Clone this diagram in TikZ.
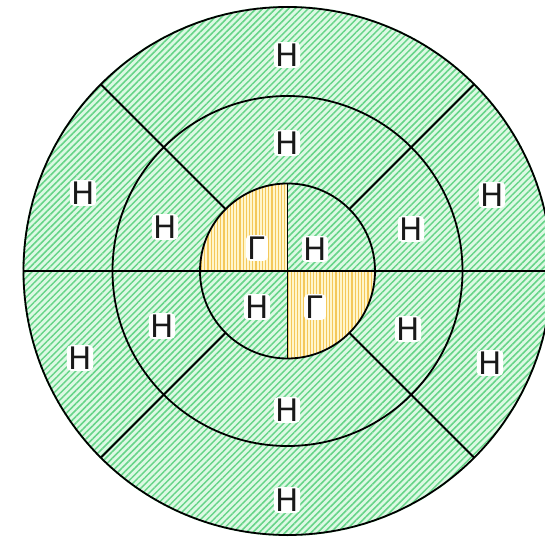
\documentclass[tikz,border=0pt]{standalone}
\usepackage{fontspec}
\setmainfont{DejaVu Sans}
\usetikzlibrary{patterns.meta,calc}
\definecolor{gbg}{HTML}{DDF9E4}
\definecolor{gline}{HTML}{66D488}
\definecolor{ybg}{HTML}{FFF6CC}
\definecolor{yline}{HTML}{F4C85A}
\tikzset{
  lab/.style={font=\fontsize{31}{31}\selectfont, fill=white, inner sep=1.5pt, rounded corners=4pt, text=black!90},
  ring/.style={draw=black, line width=1.8pt},
  greenhatch/.style={pattern={Lines[angle=45,distance=4.6pt,line width=1.5pt]}, pattern color=gline},
  yellowhatch/.style={pattern={Lines[angle=90,distance=3.2pt,line width=1.1pt]}, pattern color=yline},
}
\begin{document}
\begin{tikzpicture}[x=1pt,y=1pt]
\useasboundingbox (0,0) rectangle (545,538);
\fill[white] (0,0) rectangle (545,538);
\clip (0,0) rectangle (545,538);
\coordinate (C) at (287.5,267);
% background fill
\fill[gbg] (C) circle[radius=265];
\fill[greenhatch] (C) circle[radius=265];
% yellow quadrants
\fill[ybg] (C) -- ++(0,87.5) arc[start angle=90,end angle=180,radius=87.5] -- cycle;
\fill[yellowhatch] (C) -- ++(0,87.5) arc[start angle=90,end angle=180,radius=87.5] -- cycle;
\fill[ybg] (C) -- ++(0,-87.5) arc[start angle=270,end angle=360,radius=87.5] -- cycle;
\fill[yellowhatch] (C) -- ++(0,-87.5) arc[start angle=270,end angle=360,radius=87.5] -- cycle;
% circles
\draw[ring] (C) circle[radius=264];
\draw[ring] (C) circle[radius=175];
\draw[ring] (C) circle[radius=87.5];
% lines
\draw[ring] ($(C)+(-264,0)$) -- ($(C)+(264,0)$);
\draw[ring] ($(C)+(0,87.5)$) -- ($(C)+(0,-87.5)$);
\foreach \a in {45,135,225,315}{
  \draw[ring] ($(C)+(\a:87.5)$) -- ($(C)+(\a:264)$);
}
% labels
\node[lab] (o1) at (287,483) {Н};
\node[lab] (o2) at (287,38) {Н};
\node[lab] (o3) at (83,345) {Н};
\node[lab] (o4) at (492,343) {Н};
\node[lab] (o5) at (80,180) {Н};
\node[lab] (o6) at (490,175) {Н};
\node[lab] (m1) at (287,395) {Н};
\node[lab] (m2) at (287,128) {Н};
\node[lab] (m3) at (165,311) {Н};
\node[lab] (m4) at (411,309) {Н};
\node[lab] (m5) at (162,212) {Н};
\node[lab] (m6) at (408,209) {Н};
\node[lab] (i1) at (257,290) {Г};
\node[lab] (i2) at (315,289) {Н};
\node[lab] (i3) at (257,231) {Н};
\node[lab] (i4) at (315,231) {Г};
\end{tikzpicture}
\end{document}
